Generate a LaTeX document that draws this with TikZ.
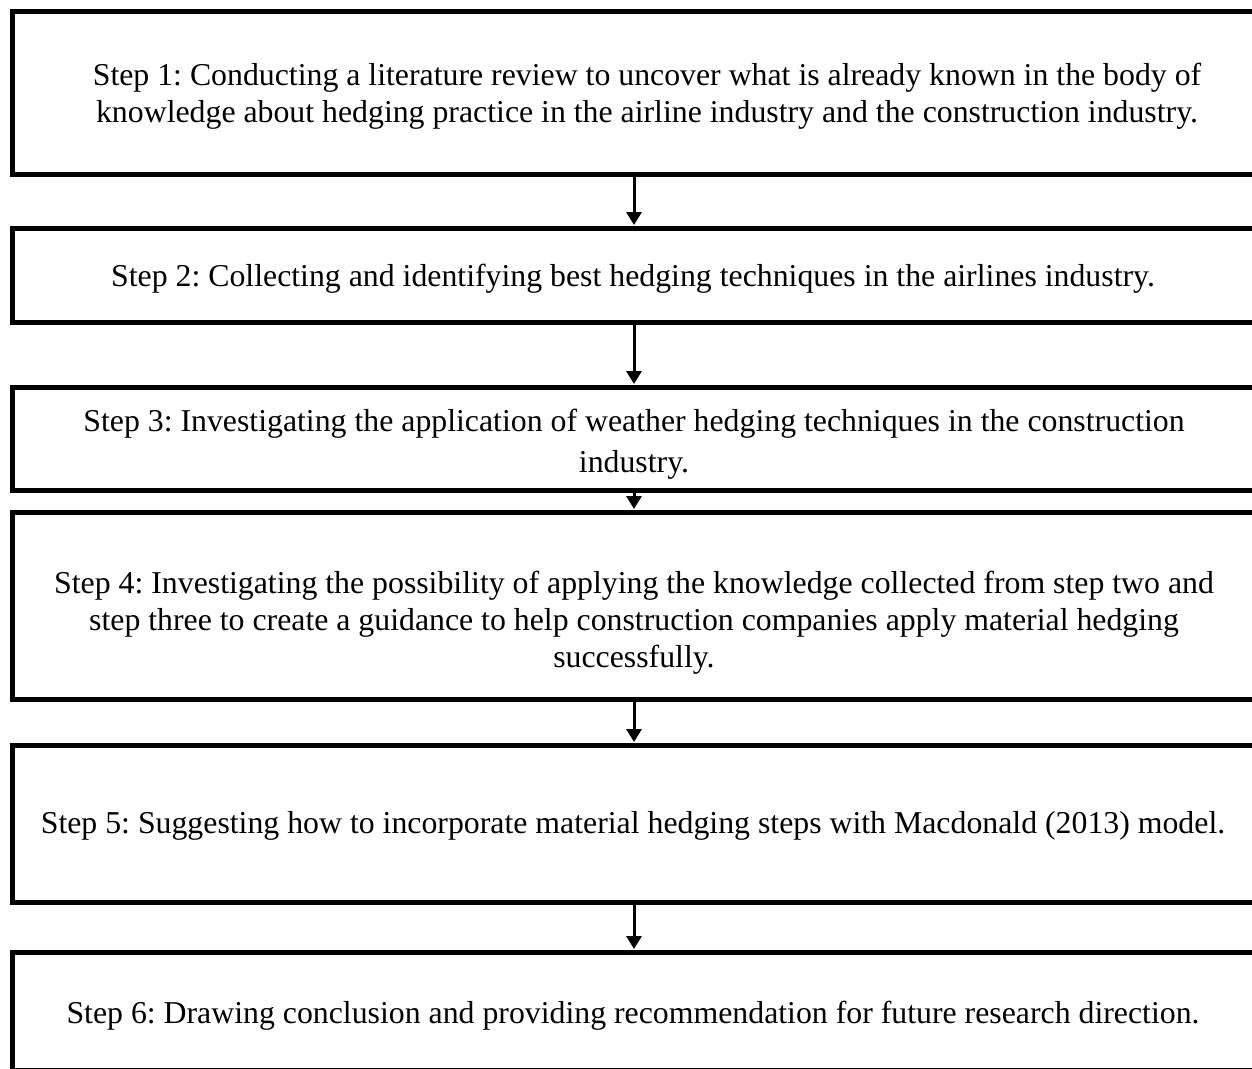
\documentclass[tikz,border=0pt]{standalone}
\usepackage{fontspec}
\setmainfont{Liberation Serif}
\usetikzlibrary{arrows.meta}
\frenchspacing
\begin{document}
\begin{tikzpicture}[x=1pt,y=-1pt,
  stepbox/.style={draw, line width=5pt, rectangle, minimum width=1243pt, inner sep=0pt, anchor=north},
  steptext/.style={align=center, inner sep=0pt, font=\fontsize{31.8}{37}\selectfont},
  flow/.style={line width=3pt, -{Triangle[width=15pt,length=13pt]}, shorten >=1pt}]
\useasboundingbox (0,0) rectangle (1252,1068);
\clip (0,0) rectangle (1252,1068);
% process boxes (top edge, height)
\node[stepbox, minimum height=163pt] (b1) at (634,9) {};
\node[stepbox, minimum height=94pt]  (b2) at (634,226) {};
\node[stepbox, minimum height=103pt] (b3) at (634,385) {};
\node[stepbox, minimum height=187pt] (b4) at (634,510) {};
\node[stepbox, minimum height=157pt] (b5) at (634,743) {};
\node[stepbox, minimum height=118pt] (b6) at (634,950) {};
% step descriptions
\node[steptext] (t1) at (647,96) {Step 1: Conducting a literature review to uncover what is already known in the body of\\knowledge about hedging practice in the airline industry and the construction industry.};
\node[steptext] (t2) at (633,279) {Step 2: Collecting and identifying best hedging techniques in the airlines industry.};
\node[steptext] (t3) at (634,444) {Step 3: Investigating the application of weather hedging techniques in the construction\\[4pt]industry.};
\node[steptext] (t4) at (634,623) {Step 4: Investigating the possibility of applying the knowledge collected from step two and\\step three to create a guidance to help construction companies apply material hedging\\successfully.};
\node[steptext] (t5) at (633,826) {Step 5: Suggesting how to incorporate material hedging steps with Macdonald (2013) model.};
\node[steptext] (t6) at (633,1016) {Step 6: Drawing conclusion and providing recommendation for future research direction.};
% connectors
\draw[flow] (b1.south) -- (b2.north);
\draw[flow] (b2.south) -- (b3.north);
\draw[flow] (b3.south) -- (b4.north);
\draw[flow] (b4.south) -- (b5.north);
\draw[flow] (b5.south) -- (b6.north);
\end{tikzpicture}
\end{document}
